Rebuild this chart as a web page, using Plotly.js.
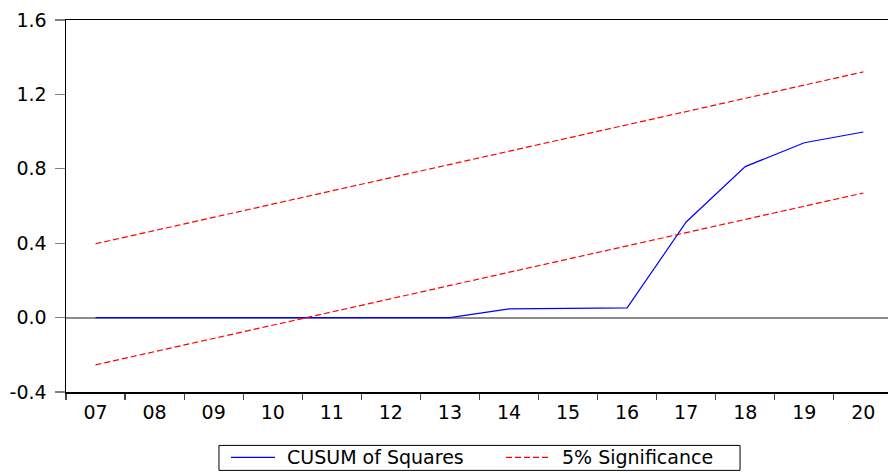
<!DOCTYPE html>
<html>
<head>
<meta charset="utf-8">
<script src="https://cdn.plot.ly/plotly-3.0.1.min.js"></script>
<style>html,body{margin:0;padding:0;background:#fff;}#chart{width:888px;height:473px;}</style>
</head>
<body>
<div id="chart"></div>
<script>
const years = ['07','08','09','10','11','12','13','14','15','16','17','18','19','20'];
const cusumSq = [0, 0, 0, 0, 0, 0, 0, 0.047, 0.05, 0.052, 0.514, 0.812, 0.94, 0.998];
const upper5 = [0.397, 0.468, 0.539, 0.610, 0.681, 0.752, 0.823, 0.894, 0.965, 1.036, 1.108, 1.179, 1.250, 1.321];
const lower5 = [-0.254, -0.183, -0.112, -0.041, 0.030, 0.101, 0.172, 0.243, 0.314, 0.385, 0.457, 0.528, 0.599, 0.670];
const yTickVals = [-0.4, 0.0, 0.4, 0.8, 1.2, 1.6];
const yTickText = ['-0.4', '0.0', '0.4', '0.8', '1.2', '1.6'];
const seriesNames = ['CUSUM of Squares', '5% Significance'];

const fontFam = 'DejaVu Sans, Arial, sans-serif';
const blue = '#0000ff', red = '#ff0000';
const traces = [
  {x: years, y: cusumSq, type: 'scatter', mode: 'lines', name: seriesNames[0],
   line: {color: blue, width: 1.2}},
  {x: years, y: upper5, type: 'scatter', mode: 'lines', name: seriesNames[1],
   legendgroup: 'sig', line: {color: red, width: 1.2, dash: '6px,3px'}},
  {x: years, y: lower5, type: 'scatter', mode: 'lines', name: seriesNames[1],
   legendgroup: 'sig', line: {color: red, width: 1.2, dash: '6px,3px'}}
];

// legend box drawn in paper coordinates (plot area: 66..888 px wide, 20..392.5 px tall)
const legY = -0.1758;
const layout = {
  width: 888, height: 473,
  margin: {l: 66, r: 0, t: 20, b: 80.5, pad: 0, autoexpand: false},
  paper_bgcolor: '#ffffff', plot_bgcolor: '#ffffff',
  font: {family: fontFam, size: 19, color: '#000000'},
  showlegend: false,
  shapes: [
    {type: 'rect', xref: 'paper', yref: 'paper', x0: 0.1861, x1: 0.8200, y0: -0.2107, y1: -0.1436,
     line: {color: '#000000', width: 1}, fillcolor: 'rgba(0,0,0,0)'},
    {type: 'line', xref: 'paper', yref: 'paper', x0: 0.2007, x1: 0.2543, y0: legY, y1: legY,
     line: {color: blue, width: 1.2}},
    {type: 'line', xref: 'paper', yref: 'paper', x0: 0.5353, x1: 0.5888, y0: legY, y1: legY,
     line: {color: red, width: 1.2, dash: '6px,3px'}}
  ],
  annotations: [
    {xref: 'paper', yref: 'paper', x: 0.2664, y: legY, xanchor: 'left', yanchor: 'middle',
     showarrow: false, text: seriesNames[0], font: {family: fontFam, size: 19, color: '#000'}},
    {xref: 'paper', yref: 'paper', x: 0.6010, y: legY, xanchor: 'left', yanchor: 'middle',
     showarrow: false, text: seriesNames[1], font: {family: fontFam, size: 19, color: '#000'}}
  ],
  xaxis: {type: 'category', range: [-0.5, 13.417], tickson: 'boundaries',
          showgrid: false, zeroline: false, showline: true, linecolor: '#000000', linewidth: 1.5,
          mirror: true, ticks: 'outside', ticklen: 6, tickcolor: '#444444', tickwidth: 1.2,
          ticklabelstandoff: 3,
          tickfont: {family: fontFam, size: 19, color: '#000'}, fixedrange: true},
  yaxis: {range: [-0.4, 1.6], tickmode: 'array', tickvals: yTickVals, ticktext: yTickText,
          showgrid: false, zeroline: true, zerolinecolor: '#8c8c8c', zerolinewidth: 2,
          showline: true, linecolor: '#000000', linewidth: 1.5, mirror: false,
          ticks: 'outside', ticklen: 10, tickcolor: '#808080', tickwidth: 1.2,
          ticklabelstandoff: 4,
          tickfont: {family: fontFam, size: 19, color: '#000'}, fixedrange: true}
};
Plotly.newPlot('chart', traces, layout, {displayModeBar: false, staticPlot: true});
</script>
</body>
</html>
